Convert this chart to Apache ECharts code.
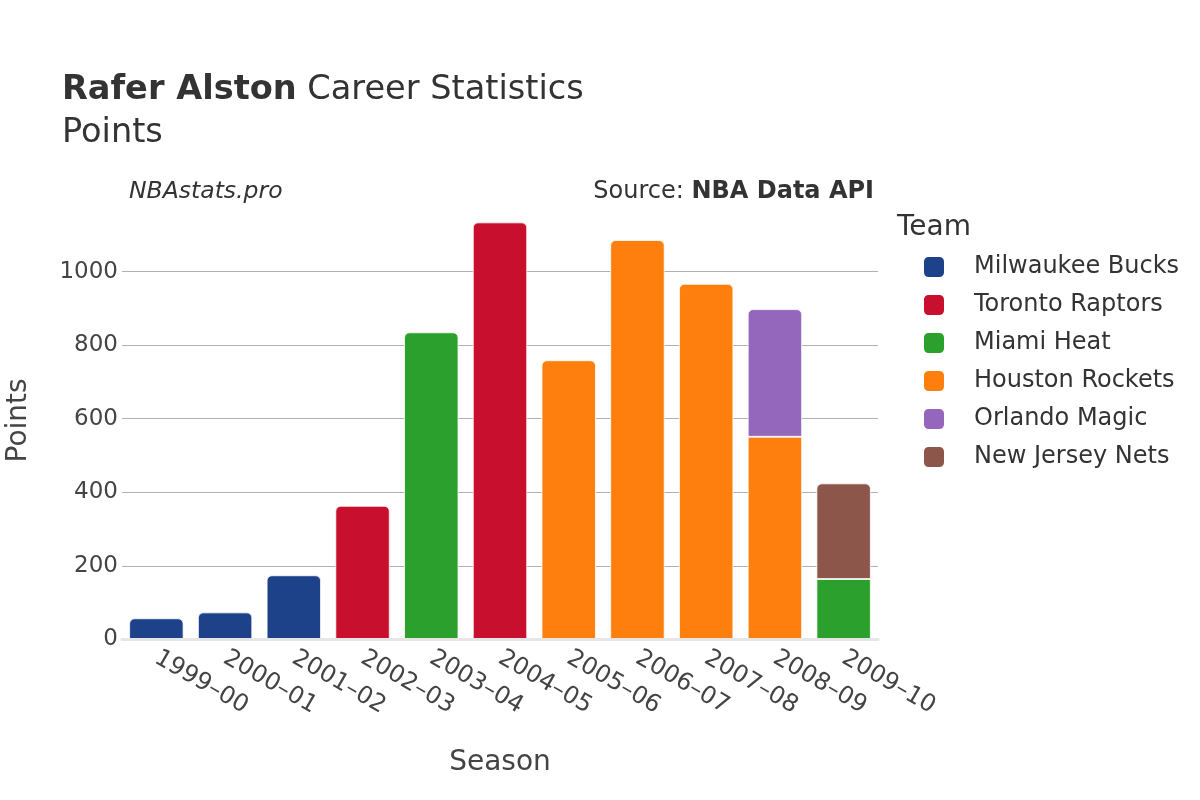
<!DOCTYPE html>
<html>
<head>
<meta charset="utf-8">
<script src="https://cdn.jsdelivr.net/npm/echarts@6/dist/echarts.min.js"></script>
<style>
html,body{margin:0;padding:0;background:#fff;}
#chart{width:1200px;height:800px;}
</style>
</head>
<body>
<div id="chart"></div>
<script>
const seasons = ['1999–00','2000–01','2001–02','2002–03','2003–04','2004–05','2005–06','2006–07','2007–08','2008–09','2009–10'];
const teams = ['Milwaukee Bucks','Toronto Raptors','Miami Heat','Houston Rockets','Orlando Magic','New Jersey Nets'];
const teamColors = ['#1d428a','#c8102e','#2ca02c','#ff7f0e','#9467bd','#8c564b'];
const milwaukeeBucks = [57, 73, 174, null, null, null, null, null, null, null, null];
const torontoRaptors = [null, null, null, 363, null, 1134, null, null, null, null, null];
const miamiHeat      = [null, null, null, null, 835, null, null, null, null, null, 164];
const houstonRockets = [null, null, null, null, null, null, 759, 1086, 967, 551, null];
const orlandoMagic   = [null, null, null, null, null, null, null, null, null, 347, null];
const newJerseyNets  = [null, null, null, null, null, null, null, null, null, null, 260];
const yTicks = [0, 200, 400, 600, 800, 1000];

const seriesValues = [milwaukeeBucks, torontoRaptors, miamiHeat, houstonRockets, orlandoMagic, newJerseyNets];

// find top segment of each stack
const topIndex = seasons.map((_, c) => {
  let t = -1;
  seriesValues.forEach((arr, s) => { if (arr[c] != null) t = s; });
  return t;
});

const series = teams.map((name, s) => ({
  name: name,
  type: 'bar',
  stack: 'total',
  barCategoryGap: '21%',
  itemStyle: { color: teamColors[s], borderColor: '#ffffff', borderWidth: 0.8 },
  data: seriesValues[s].map((v, c) => v == null ? null : {
    value: v,
    itemStyle: { borderRadius: topIndex[c] === s ? [5,5,0,0] : 0 }
  })
}));

const chart = echarts.init(document.getElementById('chart'), null, {renderer: 'canvas'});
chart.setOption({
  animation: false,
  backgroundColor: '#ffffff',
  textStyle: { fontFamily: 'DejaVu Sans' },
  title: {
    text: '{b|Rafer Alston}{r| Career Statistics}\n{r|Points}',
    left: 57,
    top: 64,
    textStyle: {
      fontWeight: 'normal',
      rich: {
        b: { fontFamily: 'DejaVu Sans', fontWeight: 'bold', fontSize: 33.6, color: '#333', lineHeight: 43 },
        r: { fontFamily: 'DejaVu Sans', fontWeight: 'normal', fontSize: 33.6, color: '#333', lineHeight: 43 }
      }
    }
  },
  graphic: [
    { type: 'text', left: 129, top: 180,
      style: { text: 'NBAstats.pro', fontFamily: 'DejaVu Sans', fontStyle: 'italic', fontSize: 23.5, fill: '#333' } },
    { type: 'text', right: 326, top: 180,
      style: { text: '{r|Source: }{b|NBA Data API}', fontFamily: 'DejaVu Sans', fontSize: 24, fill: '#333',
        rich: { r: { fontSize: 24, fontFamily: 'DejaVu Sans', fill: '#333' }, b: { fontSize: 24, fontWeight: 'bold', fontFamily: 'DejaVu Sans', fill: '#333' } } } },
    { type: 'text', left: 897, top: 214,
      style: { text: 'Team', fontFamily: 'DejaVu Sans', fontSize: 28, fill: '#333' } }
  ],
  legend: {
    orient: 'vertical',
    left: 922,
    top: 255,
    padding: 0,
    itemWidth: 22,
    itemHeight: 22,
    itemGap: 14,
    icon: 'roundRect',
    data: teams,
    textStyle: { fontFamily: 'DejaVu Sans', fontSize: 24, color: '#333', padding: [0, 0, 0, 24] }
  },
  grid: { left: 122, right: 322, top: 201.5, bottom: 160.7, containLabel: false, outerBoundsMode: 'none' },
  xAxis: {
    type: 'category',
    data: seasons,
    name: 'Season',
    nameLocation: 'middle',
    nameGap: 109,
    nameTextStyle: { fontFamily: 'DejaVu Sans', fontSize: 28, color: '#444' },
    axisLine: { show: true, lineStyle: { color: '#e6e6e6', width: 3 } },
    axisTick: { show: false },
    axisLabel: { rotate: -30, fontFamily: 'DejaVu Sans', fontSize: 24, color: '#444', margin: 17, interval: 0 },
    z: 10
  },
  yAxis: {
    type: 'value',
    min: 0,
    max: 1191,
    interval: 200,
    name: 'Points',
    nameLocation: 'middle',
    nameGap: 89,
    nameTextStyle: { fontFamily: 'DejaVu Sans', fontSize: 28, color: '#444' },
    axisLine: { show: false },
    axisTick: { show: false },
    axisLabel: {
      fontFamily: 'DejaVu Sans', fontSize: 23, color: '#444', margin: 4, showMaxLabel: false,
      formatter: v => (yTicks.indexOf(v) >= 0 ? String(v) : '')
    },
    splitLine: { show: true, showMaxLine: false, lineStyle: { color: '#b0b0b0', width: 1 } }
  },
  series: series
});
</script>
</body>
</html>
